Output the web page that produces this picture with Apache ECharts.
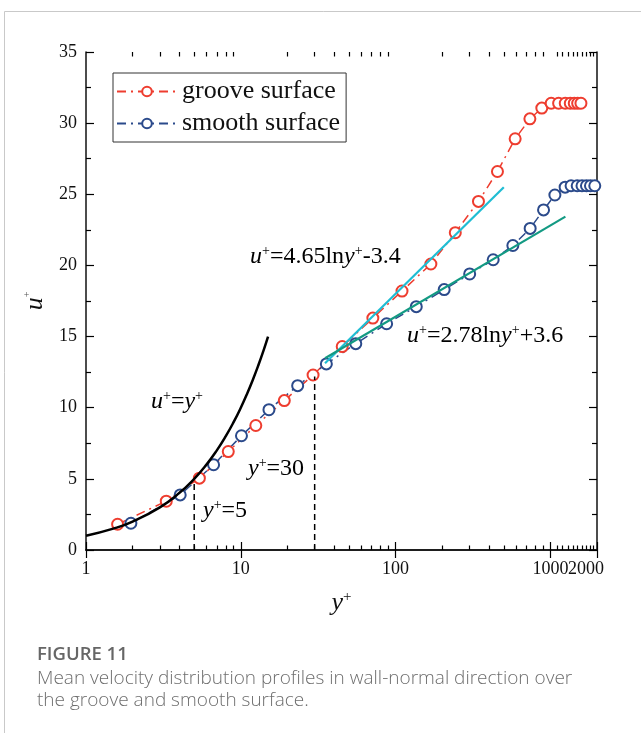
<!DOCTYPE html>
<html>
<head>
<meta charset="utf-8">
<script src="https://cdn.jsdelivr.net/npm/echarts@6/dist/echarts.min.js"></script>
<style>
  html, body { margin: 0; padding: 0; background: #fff; }
  #fig11 { width: 641px; height: 733px; }
</style>
</head>
<body>
<div id="fig11"></div>
<script>
// Mean velocity profiles, groove vs smooth surface (log x axis)

var grooveY = [1.6, 3.3, 5.4, 8.3, 12.5, 19.1, 29.3, 45.2, 71.3, 110, 169, 243, 343, 455, 592, 737, 880, 1012, 1130, 1247, 1344, 1426, 1500, 1575];
var grooveU = [1.81, 3.43, 5.05, 6.92, 8.75, 10.5, 12.3, 14.3, 16.3, 18.2, 20.1, 22.3, 24.5, 26.6, 28.9, 30.3, 31.06, 31.4, 31.4, 31.4, 31.4, 31.4, 31.4, 31.4];

var smoothY = [1.95, 4.06, 6.67, 10.1, 15.2, 23.3, 35.7, 55.3, 87.5, 136, 206, 301, 427, 572, 740, 903, 1069, 1245, 1360, 1490, 1600, 1710, 1815, 1935];
var smoothU = [1.88, 3.87, 5.99, 8.03, 9.86, 11.55, 13.08, 14.5, 15.9, 17.1, 18.3, 19.4, 20.4, 21.4, 22.6, 23.9, 24.95, 25.5, 25.6, 25.6, 25.6, 25.6, 25.6, 25.6];

// viscous sublayer curve u+ = y+
var linearY = [1, 1.5, 2, 3, 4, 5, 6, 7, 8, 9, 10, 11, 12, 13, 14, 15];
var linearU = [1, 1.5, 2, 3, 4, 5, 6, 7, 8, 9, 10, 11, 12, 13, 14, 15];

// log-law fit lines (end points)
var grooveFitY = [35, 500];
var grooveFitU = [13.13, 25.5];
var smoothFitY = [35, 1250];
var smoothFitU = [13.48, 23.43];

// y+ = 5 and y+ = 30 markers
var markY = [5, 30];
var markTop = [4.8, 12.2];

var majorTickVals = [1, 10, 100, 1000, 2000];
var decadeLabels = [1, 10, 100, 1000];
var endLabel = [2000];
var minorTickVals = [2, 3, 4, 5, 6, 7, 8, 9, 20, 30, 40, 50, 60, 70, 80, 90,
  200, 300, 400, 500, 600, 700, 800, 900, 1100, 1200, 1300, 1400, 1500, 1600, 1700, 1800, 1900];

function pairs(xs, ys) {
  return xs.map(function (x, i) { return [x, ys[i]]; });
}

var serif = 'Liberation Serif';
var red = '#ee3d2f';
var blue = '#2b4a8b';

var supRich = {
  i: { fontFamily: serif, fontStyle: 'italic', fontSize: 24, color: '#111', lineHeight: 26 },
  n: { fontFamily: serif, fontSize: 24, color: '#111', lineHeight: 26 },
  s: { fontFamily: serif, fontSize: 14, color: '#111', verticalAlign: 'top', lineHeight: 14 }
};

var axisLineStyle = { color: '#111', width: 1.5 };
var tickStyle = { color: '#000', width: 1.2 };

function logAxis(pos, ticks, len, showLine) {
  return {
    type: 'log', logBase: 10, min: 1, max: 2000, position: pos,
    axisLine: { show: showLine, lineStyle: axisLineStyle },
    axisTick: { show: true, inside: true, length: len, customValues: ticks, lineStyle: tickStyle },
    splitLine: { show: false },
    axisLabel: { show: false }
  };
}

var bottomAxis = logAxis('bottom', majorTickVals, 8, true);
bottomAxis.axisLabel = {
  show: true,
  customValues: decadeLabels,
  fontFamily: serif, fontSize: 18, color: '#111', margin: 10,
  formatter: function (v) { return String(Math.round(v)); }
};
bottomAxis.name = '{i|y}{s|+}';
bottomAxis.nameLocation = 'middle';
bottomAxis.nameGap = 40;
bottomAxis.nameTextStyle = {
  rich: {
    i: { fontFamily: serif, fontStyle: 'italic', fontSize: 26, color: '#111', lineHeight: 26 },
    s: { fontFamily: serif, fontSize: 15, color: '#111', verticalAlign: 'top', lineHeight: 14 }
  }
};

// minor ticks at the bottom; also carries the lone "2000" end label
var bottomMinor = logAxis('bottom', minorTickVals, 4.5, false);
bottomMinor.axisLabel = {
  show: true,
  customValues: endLabel,
  fontFamily: serif, fontSize: 18, color: '#111', margin: 10,
  formatter: function (v) { return '{e|' + Math.round(v) + '}'; },
  rich: { e: { fontFamily: serif, fontSize: 18, color: '#111', padding: [0, 22, 0, 0] } }
};

var chart = echarts.init(document.getElementById('fig11'));

var series = [
  {
    name: 'groove surface',
    type: 'line',
    data: pairs(grooveY, grooveU),
    symbol: 'emptyCircle',
    symbolSize: 11,
    lineStyle: { color: red, width: 1.5, type: [9, 5, 2, 5] },
    itemStyle: { color: red, borderWidth: 1.5 },
    z: 3
  },
  {
    name: 'smooth surface',
    type: 'line',
    data: pairs(smoothY, smoothU),
    symbol: 'emptyCircle',
    symbolSize: 11,
    lineStyle: { color: blue, width: 1.5, type: [9, 5, 2, 5] },
    itemStyle: { color: blue, borderWidth: 1.5 },
    z: 3
  },
  {
    type: 'line', data: pairs(linearY, linearU), smooth: true, symbol: 'none',
    lineStyle: { color: '#000', width: 2.5 }, z: 5, silent: true
  },
  {
    type: 'line', data: pairs(grooveFitY, grooveFitU), symbol: 'none',
    lineStyle: { color: '#1fbdd3', width: 2.2 }, z: 5, silent: true
  },
  {
    type: 'line', data: pairs(smoothFitY, smoothFitU), symbol: 'none',
    lineStyle: { color: '#139a83', width: 2.2 }, z: 5, silent: true
  }
];

markY.forEach(function (x, i) {
  series.push({
    type: 'line', data: [[x, 0], [x, markTop[i]]], symbol: 'none',
    lineStyle: { color: '#000', width: 1.5, type: [6, 4] }, z: 4, silent: true
  });
});

var option = {
  animation: false,
  backgroundColor: '#fff',
  grid: { left: 86, right: 44, top: 52, bottom: 183 },
  legend: {
    data: ['groove surface', 'smooth surface'],
    orient: 'vertical',
    left: 113,
    top: 73,
    borderColor: '#333',
    borderWidth: 1,
    padding: [5, 6, 5, 3],
    itemWidth: 60,
    itemHeight: 12,
    itemGap: 5,
    textStyle: { fontFamily: serif, fontSize: 26, color: '#111', lineHeight: 27 }
  },
  xAxis: [
    bottomAxis,
    logAxis('top', majorTickVals, 8, true),
    bottomMinor,
    logAxis('top', minorTickVals, 4.5, false)
  ],
  yAxis: [
    {
      type: 'value', min: 0, max: 35, interval: 5, position: 'left',
      axisLine: { show: true, lineStyle: axisLineStyle },
      axisTick: { show: true, inside: true, length: 8, lineStyle: tickStyle },
      minorTick: { show: true, splitNumber: 2, length: 5, lineStyle: tickStyle },
      splitLine: { show: false },
      axisLabel: { fontFamily: serif, fontSize: 18, color: '#111', margin: 9 },
      name: '{i|u}{s|+}',
      nameLocation: 'middle',
      nameGap: 37,
      nameRotate: 90,
      nameTextStyle: {
        rich: {
          i: { fontFamily: serif, fontStyle: 'italic', fontSize: 26, color: '#111', lineHeight: 26 },
          s: { fontFamily: serif, fontSize: 10, color: '#555', verticalAlign: 'top', lineHeight: 10 }
        }
      }
    },
    {
      type: 'value', min: 0, max: 35, interval: 5, position: 'right',
      axisLine: { show: true, lineStyle: axisLineStyle },
      axisTick: { show: true, inside: true, length: 8, lineStyle: tickStyle },
      minorTick: { show: true, splitNumber: 2, length: 5, lineStyle: tickStyle },
      splitLine: { show: false },
      axisLabel: { show: false }
    }
  ],
  series: series,
  graphic: [
    {
      type: 'rect', silent: true, z: -10,
      shape: { x: 4.5, y: 11.5, width: 660, height: 760 },
      style: { fill: 'none', stroke: '#c9c9c9', lineWidth: 1 }
    },
    {
      type: 'text', left: 250, top: 244, z: 20,
      style: { text: '{i|u}{s|+}{n|=4.65ln}{i|y}{s|+}{n|-3.4}', rich: supRich }
    },
    {
      type: 'text', left: 407, top: 323, z: 20,
      style: { text: '{i|u}{s|+}{n|=2.78ln}{i|y}{s|+}{n|+3.6}', rich: supRich }
    },
    {
      type: 'text', left: 151, top: 389, z: 20,
      style: { text: '{i|u}{s|+}{n|=}{i|y}{s|+}', rich: supRich }
    },
    {
      type: 'text', left: 248, top: 456, z: 20,
      style: { text: '{i|y}{s|+}{n|=30}', rich: supRich }
    },
    {
      type: 'text', left: 203, top: 498, z: 20,
      style: { text: '{i|y}{s|+}{n|=5}', rich: supRich }
    },
    {
      type: 'text', left: 37, top: 645,
      style: { text: 'FIGURE 11', fontFamily: 'Open Sans', fontWeight: 600, fontSize: 18.5, fill: '#666' }
    },
    {
      type: 'text', left: 37, top: 668,
      style: {
        text: 'Mean velocity distribution profiles in wall-normal direction over\nthe groove and smooth surface.',
        fontFamily: 'Open Sans', fontWeight: 300, fontSize: 19, lineHeight: 22, fill: '#6e6e6e'
      }
    }
  ]
};

chart.setOption(option);
</script>
</body>
</html>
